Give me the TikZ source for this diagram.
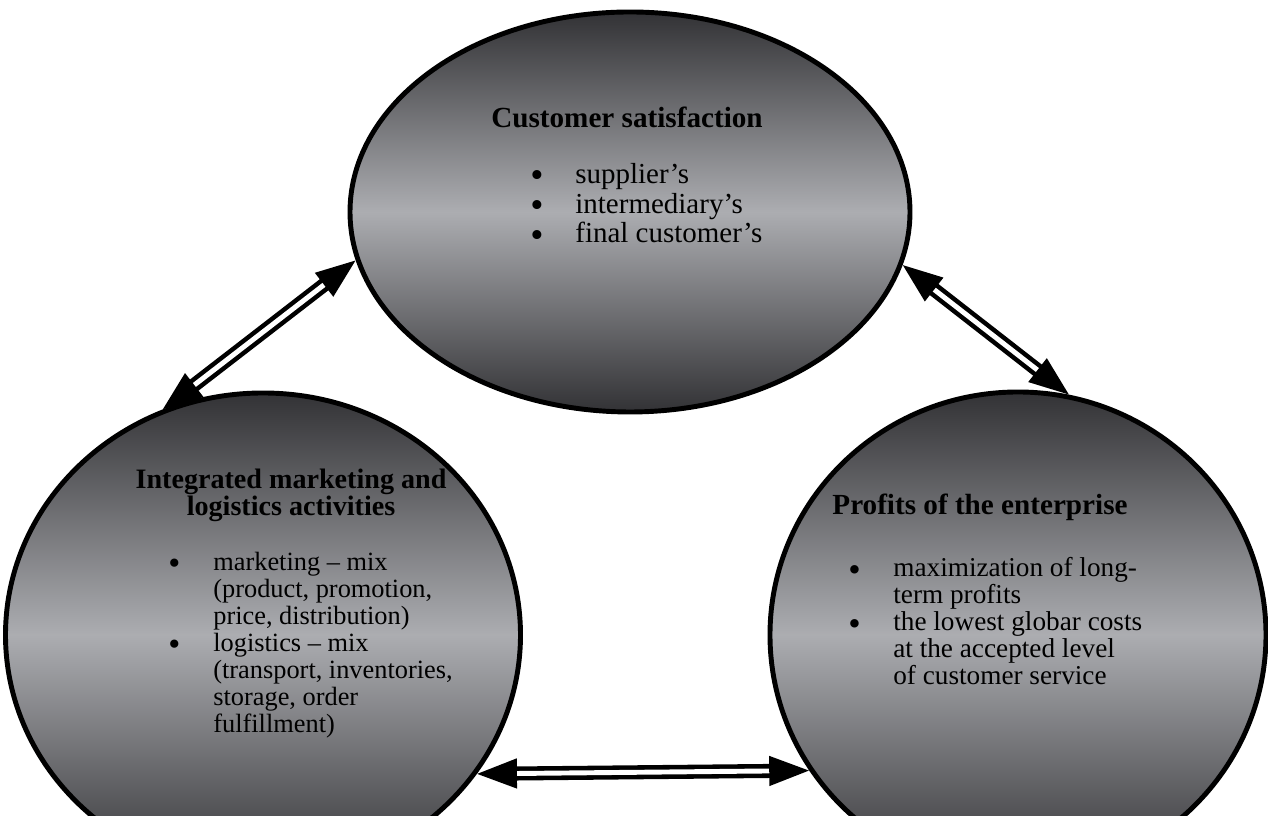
\documentclass[tikz,border=0pt]{standalone}
\usepackage{fontspec}
\setmainfont{Liberation Serif}
\usepackage{graphicx}
\usepackage{tikz}
\usetikzlibrary{shapes.geometric, arrows.meta}
\definecolor{ovaldark}{RGB}{50,50,53}
\definecolor{ovallight}{RGB}{172,173,177}
\tikzset{
ovalnode/.style={ellipse, draw=black, line width=2.8pt, inner sep=0pt, top color=ovaldark, bottom color=ovaldark, middle color=ovallight}, % the shaded ovals
headtext/.style={font=\fontsize{16.6}{15.4}\selectfont\bfseries, align=center, anchor=base, inner sep=0pt}, % bold titles, placed at last baseline
itemtext/.style={font=\fontsize{15.5}{15.4}\selectfont, align=left, anchor=base west, inner sep=0pt}, % bullet lists, placed at last baseline
dbl/.style={line width=2.6pt, double distance=2.8pt, {Triangle[length=0.8cm, width=0.58cm]}-{Triangle[length=0.8cm, width=0.58cm]}}, % double arrows
}
\newcommand{\bul}{\makebox[0.9cm][l]{\raisebox{-0.35ex}{\scalebox{1.3}{\textbullet}}}}
\newcommand{\nob}{\hspace*{0.9cm}}

\begin{document}
\begin{tikzpicture}
\useasboundingbox (0,0) rectangle (25.36,16.32);
\fill[white] (0,0) rectangle (25.36,16.32);
% ovals
\node[ovalnode, minimum width=11.2cm, minimum height=8cm] (sat) at (12.6,12.08) {};
\node[ovalnode, minimum width=10.3cm, minimum height=9.68cm] (mix) at (5.26,3.62) {};
\node[ovalnode, minimum width=9.92cm, minimum height=9.72cm] (prof) at (20.36,3.62) {};
% arrows
\draw[dbl] (mix.114) -- (sat.190);
\draw[dbl] (sat.349) -- (prof.78);
\draw[dbl] (mix.327) -- (prof.213);
% texts
\node[headtext] (sathead) at (12.54,13.76) {Customer satisfaction};
\node[itemtext, font=\fontsize{16.5}{17}\selectfont] (satlist) at (10.6,11.46) {\bul supplier's\\ \bul intermediary's\\ \bul final customer's};
\node[headtext, font=\fontsize{16}{15.4}\selectfont\bfseries] (mixhead) at (5.82,6.0) {Integrated marketing and\\ logistics activities};
\node[itemtext, font=\fontsize{15}{15.4}\selectfont] (mixlist) at (3.36,1.67) {\bul marketing -- mix\\ \nob (product, promotion,\\ \nob price, distribution)\\ \bul logistics -- mix\\ \nob (transport, inventories,\\ \nob storage, order\\ \nob fulfillment)};
\node[headtext] (profhead) at (19.6,6.02) {Profits of the enterprise};
\node[itemtext] (proflist) at (16.96,2.62) {\bul maximization of long-\\ \nob term profits\\ \bul the lowest globar costs\\ \nob at the accepted level\\ \nob of customer service};
\end{tikzpicture}
\end{document}
